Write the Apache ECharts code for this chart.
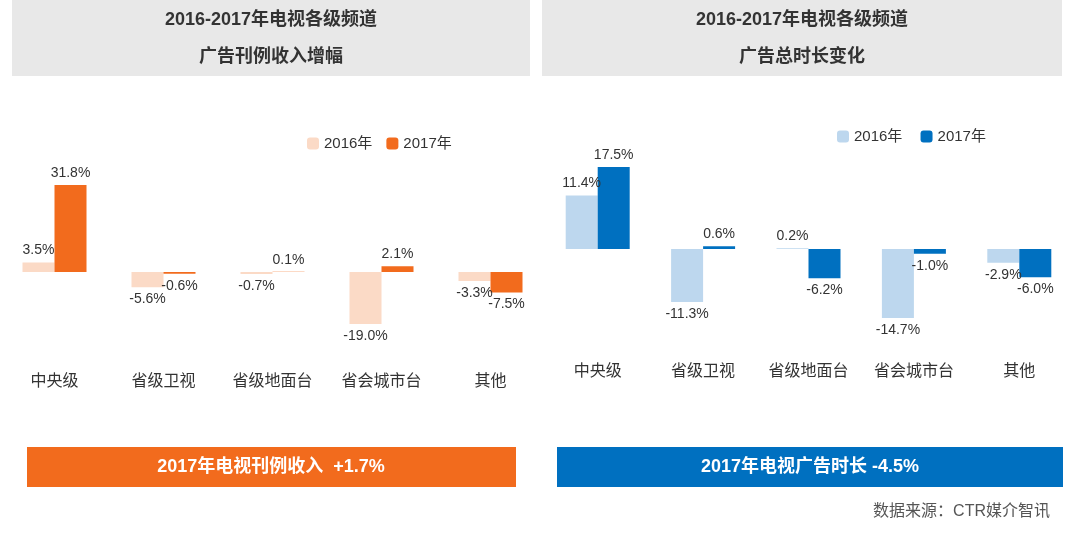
<!DOCTYPE html>
<html>
<head>
<meta charset="utf-8">
<script src="https://cdn.jsdelivr.net/npm/echarts@6/dist/echarts.min.js"></script>
<style>
  body { margin: 0; background: #fff; }
  #chart { width: 1080px; height: 534px; }
</style>
</head>
<body>
<div id="chart"></div>
<script>
// --- Data.
const categories = ['中央级', '省级卫视', '省级地面台', '省会城市台', '其他'];
const revenue2016 = [3.5, -5.6, -0.7, -19.0, -3.3];
const revenue2017 = [31.8, -0.6, 0.1, 2.1, -7.5];
const duration2016 = [11.4, -11.3, 0.2, -14.7, -2.9];
const duration2017 = [17.5, 0.6, -6.2, -1.0, -6.0];

const FONT = '"Liberation Sans", "Noto Sans CJK SC", sans-serif';

// Positive labels above the bar, negative ones below.
function withLabels(values) {
  return values.map(v => ({
    value: v,
    label: { position: v >= 0 ? 'top' : 'bottom' }
  }));
}

function barSeries(name, values, color, axis) {
  return {
    name: name, type: 'bar', xAxisIndex: axis, yAxisIndex: axis,
    data: withLabels(values), barWidth: 32, barGap: '0%',
    itemStyle: { color: color },
    label: { show: true, formatter: p => p.value.toFixed(1) + '%', color: '#333', fontSize: 14, fontFamily: FONT }
  };
}

function xAxis(grid, margin) {
  return {
    type: 'category', gridIndex: grid, data: categories,
    axisLine: { show: false }, axisTick: { show: false },
    axisLabel: { margin: margin, fontSize: 16, color: '#333', fontFamily: FONT }
  };
}

function yAxis(grid, min, max) {
  return { type: 'value', gridIndex: grid, min: min, max: max, show: false, splitLine: { show: false } };
}

function box(x, y, w, h, color) {
  return { type: 'rect', shape: { x: x, y: y, width: w, height: h }, style: { fill: color }, silent: true };
}

function text(x, y, str, size, color, align) {
  return { type: 'text', x: x, y: y, style: { text: str, fontSize: size, fontWeight: 'bold', fill: color, align: align || 'center', verticalAlign: 'middle', fontFamily: FONT } };
}

const chart = echarts.init(document.getElementById('chart'));
chart.setOption({
  animation: false,
  graphic: [
    box(12, 0, 518, 76, '#e8e8e8'),
    box(542, 0, 520, 76, '#e8e8e8'),
    text(271, 20, '2016-2017年电视各级频道', 18, '#333'),
    text(271, 57, '广告刊例收入增幅', 18, '#333'),
    text(802, 20, '2016-2017年电视各级频道', 18, '#333'),
    text(802, 57, '广告总时长变化', 18, '#333'),
    box(27, 447, 489, 40, '#f26b1d'),
    box(557, 447, 506, 40, '#0070c0'),
    text(271, 467, '2017年电视刊例收入  +1.7%', 18, '#fff'),
    text(810, 467, '2017年电视广告时长 -4.5%', 18, '#fff'),
    { type: 'text', x: 1050, y: 512, style: { text: '数据来源：CTR媒介智讯', fontSize: 16, fill: '#555', align: 'right', verticalAlign: 'middle', fontFamily: FONT } }
  ],
  legend: [
    { data: ['2016年', '2017年'], left: 302, top: 131, itemWidth: 12, itemHeight: 12, itemGap: 14,
      textStyle: { fontSize: 15, color: '#333', fontFamily: FONT } },
    { data: ['2016年 ', '2017年 '], left: 832, top: 124, itemWidth: 12, itemHeight: 12, itemGap: 14,
      textStyle: { fontSize: 15, color: '#333', fontFamily: FONT } }
  ],
  grid: [
    { left: 0, width: 545, top: 185, height: 139 },
    { left: 545, width: 527, top: 167, height: 151 }
  ],
  xAxis: [xAxis(0, 50), xAxis(1, 46)],
  yAxis: [yAxis(0, -19, 31.8), yAxis(1, -14.7, 17.5)],
  series: [
    barSeries('2016年', revenue2016, '#fbdac6', 0),
    barSeries('2017年', revenue2017, '#f26b1d', 0),
    barSeries('2016年 ', duration2016, '#bdd7ee', 1),
    barSeries('2017年 ', duration2017, '#0070c0', 1)
  ]
});
</script>
</body>
</html>
